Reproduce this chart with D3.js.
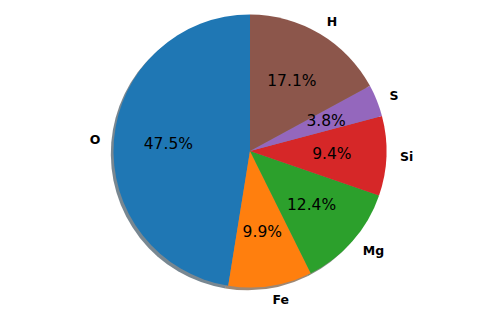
<!DOCTYPE html>
<html>
<head>
<meta charset="utf-8">
<script src="https://d3js.org/d3.v7.min.js"></script>
<style>
  body { margin: 0; background: white; }
</style>
</head>
<body>
<div id="container"></div>
<script>
let w = 485;
let h = 317;

// data
let elements = ["O", "Fe", "Mg", "Si", "S", "H"];
let shares = [47.5, 9.9, 12.4, 9.4, 3.8, 17.1];
let colors = ["#1f77b4", "#ff7f0e", "#2ca02c", "#d62728", "#9467bd", "#8c564b"];

let cx = 250;
let cy = 151;
let r = 136.5;

let viz = d3.select("#container").append("svg")
    .attr("width", w)
    .attr("height", h)
    .style("background-color", "white");

let data = elements.map(function(d, i){
  return {name: d, value: shares[i], color: colors[i]};
});

// counterclockwise from the top, like matplotlib startangle=90
let pie = d3.pie()
    .sort(null)
    .value(function(d){ return d.value; })
    .startAngle(0)
    .endAngle(-2 * Math.PI);

let arcs = pie(data);
let arcMaker = d3.arc().innerRadius(0).outerRadius(r);

// shadow, offset down-left
let shadow = viz.append("g")
    .attr("transform", "translate(" + (cx - 2.7) + "," + (cy + 2.7) + ")");
shadow.selectAll("path").data(arcs).enter()
  .append("path")
    .attr("d", arcMaker)
    .attr("fill", function(d){
      let c = d3.rgb(d.data.color);
      return d3.rgb(c.r * 0.3, c.g * 0.3, c.b * 0.3);
    })
    .attr("opacity", 0.55);

let g = viz.append("g")
    .attr("transform", "translate(" + cx + "," + cy + ")");

g.selectAll(".slice").data(arcs).enter()
  .append("path")
    .attr("class", "slice")
    .attr("d", arcMaker)
    .attr("fill", function(d){ return d.data.color; });

function mid(d){ return (d.startAngle + d.endAngle) / 2; }

// percentage labels
g.selectAll(".pct").data(arcs).enter()
  .append("text")
    .attr("class", "pct")
    .attr("x", function(d){ return 0.6 * r * Math.sin(mid(d)); })
    .attr("y", function(d){ return -0.6 * r * Math.cos(mid(d)); })
    .attr("text-anchor", "middle")
    .attr("dominant-baseline", "central")
    .style("font-family", "DejaVu Sans")
    .style("font-size", "15.5px")
    .text(function(d){ return d.data.value.toFixed(1) + "%"; });

// element labels
g.selectAll(".lbl").data(arcs).enter()
  .append("text")
    .attr("class", "lbl")
    .attr("x", function(d){ return 1.1 * r * Math.sin(mid(d)); })
    .attr("y", function(d){ return -1.1 * r * Math.cos(mid(d)); })
    .attr("text-anchor", function(d){ return Math.sin(mid(d)) > 0 ? "start" : "end"; })
    .attr("dominant-baseline", "central")
    .style("font-family", "DejaVu Sans")
    .style("font-weight", "bold")
    .style("font-size", "12.5px")
    .text(function(d){ return d.data.name; });
</script>
</body>
</html>
